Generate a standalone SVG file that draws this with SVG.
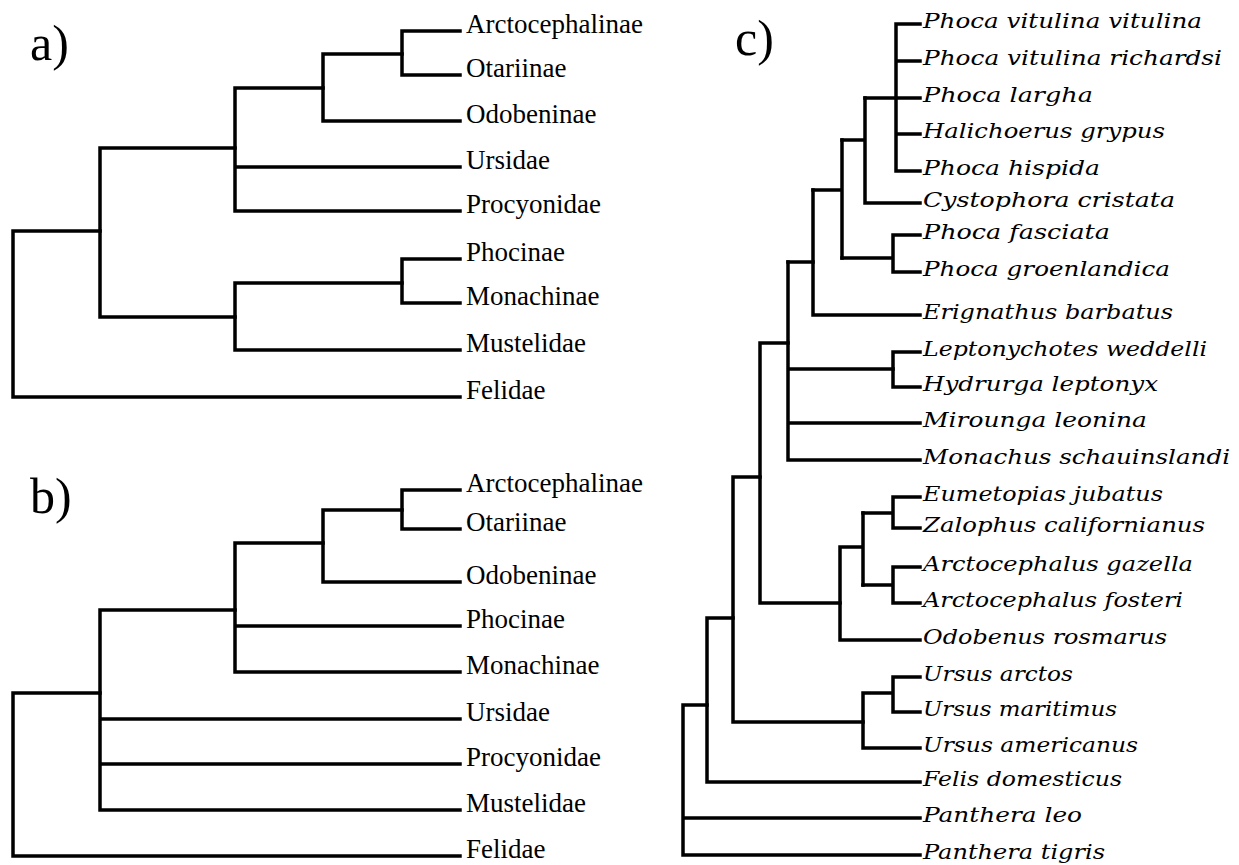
<svg xmlns="http://www.w3.org/2000/svg" width="1239" height="865" viewBox="0 0 1239 865">
<style>
.e{fill:none;stroke:#000;stroke-width:3.5;stroke-linecap:square;stroke-linejoin:miter}
.lab{font-family:"Liberation Serif","Times New Roman",serif;font-size:27px;fill:#000}
.sp{font-family:"DejaVu Serif","Liberation Serif",serif;font-style:italic;font-size:21px;fill:#000}
.pl{font-family:"Liberation Serif","Times New Roman",serif;font-size:50px;fill:#000}
</style>
<rect width="1239" height="865" fill="#fff"/>
<g id="panel-labels">
<text class="pl" x="30" y="60">a)</text>
<text class="pl" x="30" y="513">b)</text>
<text class="pl" x="735" y="55">c)</text>
</g>
<g id="connectors">
<!-- panel a -->
<path class="e" d="M460,397 H13 V231 H100"/>
<path class="e" d="M235,148 H100 V317 H235"/>
<path class="e" d="M323,88 H235 V211 H460 M235,167 H460"/>
<path class="e" d="M402,54 H323 V121 H460"/>
<path class="e" d="M460,31 H402 V75 H460"/>
<path class="e" d="M402,283 H235 V350 H460"/>
<path class="e" d="M460,259 H402 V303 H460"/>
<!-- panel b -->
<path class="e" d="M460,856 H13 V693 H100"/>
<path class="e" d="M235,610 H100 V810 H460 M100,719 H460 M100,764 H460"/>
<path class="e" d="M323,543 H235 V672 H460 M235,626 H460"/>
<path class="e" d="M402,510 H323 V582 H460"/>
<path class="e" d="M460,490 H402 V529 H460"/>
<!-- panel c -->
<path class="e" d="M920,24 H896 V171 H920 M896,61 H920 M896,134 H920 M865,98 H920"/>
<path class="e" d="M865,98 V203 H920 M842,140 H865"/>
<path class="e" d="M920,235 H893 V272 H920 M842,258 H893"/>
<path class="e" d="M842,140 V258 M813,190 H842"/>
<path class="e" d="M813,190 V315 H920"/>
<path class="e" d="M788,262 H813"/>
<path class="e" d="M788,262 V460 H920 M788,423 H920 M788,369 H893"/>
<path class="e" d="M920,352 H893 V387 H920"/>
<path class="e" d="M760,343 H788 M760,343 V603 H840"/>
<path class="e" d="M920,497 H893 V528 H920 M863,513 H893"/>
<path class="e" d="M920,567 H893 V603 H920 M863,585 H893"/>
<path class="e" d="M863,513 V585 M840,547 H863 M840,547 V640 H920"/>
<path class="e" d="M733,477 H760 M733,477 V722 H863"/>
<path class="e" d="M893,677 H920 M893,677 V712 H920 M863,693 H893 M863,693 V748 H920"/>
<path class="e" d="M707,618 H733 M707,618 V782 H920"/>
<path class="e" d="M683,705 H707 M683,705 V855 H920 M683,818 H920"/>
</g>
<g id="tree-a">
<text class="lab" x="466" y="33">Arctocephalinae</text>
<text class="lab" x="466" y="77">Otariinae</text>
<text class="lab" x="466" y="123">Odobeninae</text>
<text class="lab" x="466" y="169">Ursidae</text>
<text class="lab" x="466" y="213">Procyonidae</text>
<text class="lab" x="466" y="261">Phocinae</text>
<text class="lab" x="466" y="305">Monachinae</text>
<text class="lab" x="466" y="352">Mustelidae</text>
<text class="lab" x="466" y="399">Felidae</text>
</g>
<g id="tree-b">
<text class="lab" x="466" y="492">Arctocephalinae</text>
<text class="lab" x="466" y="531">Otariinae</text>
<text class="lab" x="466" y="584">Odobeninae</text>
<text class="lab" x="466" y="628">Phocinae</text>
<text class="lab" x="466" y="674">Monachinae</text>
<text class="lab" x="466" y="721">Ursidae</text>
<text class="lab" x="466" y="766">Procyonidae</text>
<text class="lab" x="466" y="812">Mustelidae</text>
<text class="lab" x="466" y="858">Felidae</text>
</g>
<g id="tree-c">
<text class="sp" x="923" y="28" textLength="279" lengthAdjust="spacingAndGlyphs">Phoca vitulina vitulina</text>
<text class="sp" x="923" y="65" textLength="299" lengthAdjust="spacingAndGlyphs">Phoca vitulina richardsi</text>
<text class="sp" x="923" y="102" textLength="170" lengthAdjust="spacingAndGlyphs">Phoca largha</text>
<text class="sp" x="923" y="138" textLength="242" lengthAdjust="spacingAndGlyphs">Halichoerus grypus</text>
<text class="sp" x="923" y="175" textLength="177" lengthAdjust="spacingAndGlyphs">Phoca hispida</text>
<text class="sp" x="923" y="207" textLength="252" lengthAdjust="spacingAndGlyphs">Cystophora cristata</text>
<text class="sp" x="923" y="239" textLength="187" lengthAdjust="spacingAndGlyphs">Phoca fasciata</text>
<text class="sp" x="923" y="276" textLength="247" lengthAdjust="spacingAndGlyphs">Phoca groenlandica</text>
<text class="sp" x="923" y="319" textLength="250" lengthAdjust="spacingAndGlyphs">Erignathus barbatus</text>
<text class="sp" x="923" y="356" textLength="284" lengthAdjust="spacingAndGlyphs">Leptonychotes weddelli</text>
<text class="sp" x="923" y="391" textLength="235" lengthAdjust="spacingAndGlyphs">Hydrurga leptonyx</text>
<text class="sp" x="923" y="427" textLength="224" lengthAdjust="spacingAndGlyphs">Mirounga leonina</text>
<text class="sp" x="923" y="464" textLength="307" lengthAdjust="spacingAndGlyphs">Monachus schauinslandi</text>
<text class="sp" x="923" y="501" textLength="240" lengthAdjust="spacingAndGlyphs">Eumetopias jubatus</text>
<text class="sp" x="923" y="532" textLength="282" lengthAdjust="spacingAndGlyphs">Zalophus californianus</text>
<text class="sp" x="923" y="571" textLength="270" lengthAdjust="spacingAndGlyphs">Arctocephalus gazella</text>
<text class="sp" x="923" y="607" textLength="260" lengthAdjust="spacingAndGlyphs">Arctocephalus fosteri</text>
<text class="sp" x="923" y="644" textLength="244" lengthAdjust="spacingAndGlyphs">Odobenus rosmarus</text>
<text class="sp" x="923" y="681" textLength="150" lengthAdjust="spacingAndGlyphs">Ursus arctos</text>
<text class="sp" x="923" y="716" textLength="194" lengthAdjust="spacingAndGlyphs">Ursus maritimus</text>
<text class="sp" x="923" y="752" textLength="215" lengthAdjust="spacingAndGlyphs">Ursus americanus</text>
<text class="sp" x="923" y="786" textLength="199" lengthAdjust="spacingAndGlyphs">Felis domesticus</text>
<text class="sp" x="923" y="822" textLength="159" lengthAdjust="spacingAndGlyphs">Panthera leo</text>
<text class="sp" x="923" y="859" textLength="182" lengthAdjust="spacingAndGlyphs">Panthera tigris</text>
</g>
</svg>
